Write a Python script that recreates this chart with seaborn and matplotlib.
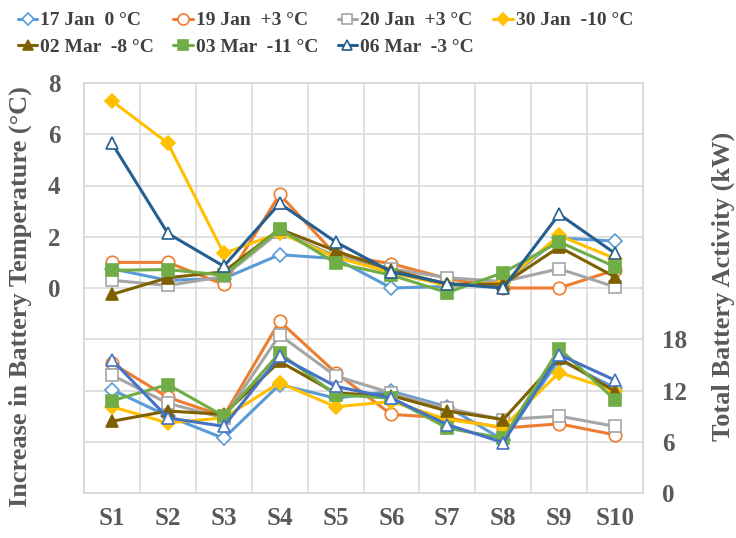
import numpy as np
import matplotlib
matplotlib.use("Agg")
import matplotlib.pyplot as plt
import seaborn as sns

sns.set_theme(style="white")
plt.rcParams['font.family'] = ['Liberation Serif', 'DejaVu Serif']
plt.rcParams['font.weight'] = 'bold'

sites = ['S1', 'S2', 'S3', 'S4', 'S5', 'S6', 'S7', 'S8', 'S9', 'S10']
days = ['17 Jan  0 °C', '19 Jan  +3 °C', '20 Jan  +3 °C', '30 Jan  -10 °C',
        '02 Mar  -8 °C', '03 Mar  -11 °C', '06 Mar  -3 °C']

# increase in battery temperature (°C), left axis
temp_rise = [
    [0.75, 0.3, 0.37, 1.3, 1.15, 0.0, 0.06, 0.2, 1.95, 1.83],
    [1.0, 1.0, 0.14, 3.65, 1.3, 0.95, 0.37, 0.0, 0.0, 0.7],
    [0.3, 0.1, 0.45, 2.2, 1.25, 0.75, 0.4, 0.25, 0.75, 0.04],
    [7.3, 5.65, 1.35, 2.15, 1.2, 0.6, 0.1, 0.2, 2.05, 1.15],
    [-0.25, 0.4, 0.63, 2.3, 1.45, 0.7, 0.15, 0.15, 1.6, 0.43],
    [0.69, 0.72, 0.5, 2.3, 0.98, 0.5, -0.18, 0.6, 1.8, 0.83],
    [5.65, 2.13, 0.85, 3.3, 1.8, 0.63, 0.17, 0.0, 2.88, 1.35],
]

# total battery activity (kW), right axis
activity = [
    [12.1, 9.0, 6.4, 12.7, 11.1, 11.9, 10.1, 6.2, 15.6, 12.3],
    [15.2, 11.2, 9.0, 20.1, 14.1, 9.2, 8.8, 7.6, 8.1, 6.8],
    [13.8, 10.5, 8.8, 18.5, 13.7, 11.7, 9.9, 8.6, 9.0, 7.8],
    [10.1, 8.2, 8.8, 12.9, 10.1, 10.7, 8.6, 7.7, 14.1, 12.0],
    [8.4, 9.6, 9.2, 15.4, 11.7, 11.4, 9.6, 8.6, 15.8, 11.9],
    [10.8, 12.7, 9.0, 16.4, 11.5, 11.1, 7.6, 6.4, 16.9, 10.9],
    [15.6, 8.8, 7.8, 16.0, 12.5, 11.1, 8.0, 5.9, 16.2, 13.2],
]

colors = ['#5B9BD5', '#ED7D31', '#A5A5A5', '#FFC000', '#7F6000', '#70AD47', '#255E91']
colors_low = ['#5B9BD5', '#ED7D31', '#A5A5A5', '#FFC000', '#7F6000', '#70AD47', '#4472C4']
markers = ['D', 'o', 's', 'D', '^', 's', '^']
filled = [False, False, False, True, True, True, False]
msizes = [7, 9, 8, 7, 8, 8, 8]

grid_c = '#D9D9D9'
text_c = '#595959'

fig = plt.figure(figsize=(7.36, 5.38), dpi=100)
W, H = 736, 538
ax = fig.add_axes([84 / W, 1 - 493 / H, (643 - 84) / W, (493 - 83) / H])
ax2 = ax.twinx()

x = np.arange(len(sites))
handles = []
for i in range(len(days)):
    fc = colors[i] if filled[i] else 'white'
    sns.lineplot(x=x, y=temp_rise[i], ax=ax, color=colors[i], marker=markers[i],
                 markersize=msizes[i], markerfacecolor=fc, markeredgecolor=colors[i],
                 markeredgewidth=1.2, linewidth=2.2, zorder=3, legend=False)
    fc2 = colors_low[i] if filled[i] else 'white'
    sns.lineplot(x=x, y=activity[i], ax=ax2, color=colors_low[i], marker=markers[i],
                 markersize=msizes[i], markerfacecolor=fc2, markeredgecolor=colors_low[i],
                 markeredgewidth=1.2, linewidth=2.2, zorder=3, legend=False)
    h, = ax.plot([], [], color=colors[i], marker=markers[i], markersize=msizes[i] - 1,
                 markerfacecolor=fc, markeredgecolor=colors[i], markeredgewidth=1.2,
                 linewidth=2.2)
    handles.append(h)

ax.set_xlim(-0.5, len(sites) - 0.5)
ax.set_ylim(-8, 8)
ax2.set_ylim(0, 48)

ax.set_yticks(np.arange(-8, 9, 2))
ax.set_yticklabels([str(v) if v >= 0 else '' for v in range(-8, 9, 2)])
ax2.set_yticks([0, 6, 12, 18])
ax.set_xticks(x)
ax.set_xticklabels(sites)
ax.set_xticks(np.arange(-0.5, len(sites), 1), minor=True)

ax.grid(True, which='minor', axis='x', color=grid_c, linewidth=1.2)
ax.grid(True, which='major', axis='y', color=grid_c, linewidth=1.2)
ax.grid(False, which='major', axis='x')
ax.set_axisbelow(True)
ax2.grid(False)
ax2.set_zorder(ax.get_zorder() + 1)
ax2.patch.set_visible(False)

for a in (ax, ax2):
    for s in a.spines.values():
        s.set_color(grid_c)
        s.set_linewidth(1.2)

ax.tick_params(axis='y', which='both', length=0, pad=17, labelsize=18, labelcolor=text_c)
ax.tick_params(axis='x', which='both', length=0, pad=10, labelsize=18, labelcolor=text_c)
ax2.tick_params(axis='y', length=0, pad=14, labelsize=18, labelcolor=text_c)

ax.set_xlabel('')
ax.set_ylabel('Increase in Battery Temperature (°C)', fontsize=19, fontweight='bold',
              color=text_c)
ax.yaxis.set_label_coords(-0.093, 0.48)
ax2.set_ylabel('Total Battery Activity (kW)', fontsize=19, fontweight='bold',
               color=text_c, rotation=90)
ax2.yaxis.set_label_coords(1.123, 0.505)

order = [0, 4, 1, 5, 2, 6, 3]
fig.legend([handles[k] for k in order], [days[k] for k in order], ncol=4,
           loc='upper left', bbox_to_anchor=(10 / W, 1 - 4 / H), frameon=False,
           prop={'family': 'Liberation Serif', 'weight': 'bold', 'size': 14},
           labelcolor='#404040', handlelength=1.0, handletextpad=0.15,
           columnspacing=1.0, labelspacing=0.45, borderaxespad=0)

fig.savefig('out.png', dpi=100)
